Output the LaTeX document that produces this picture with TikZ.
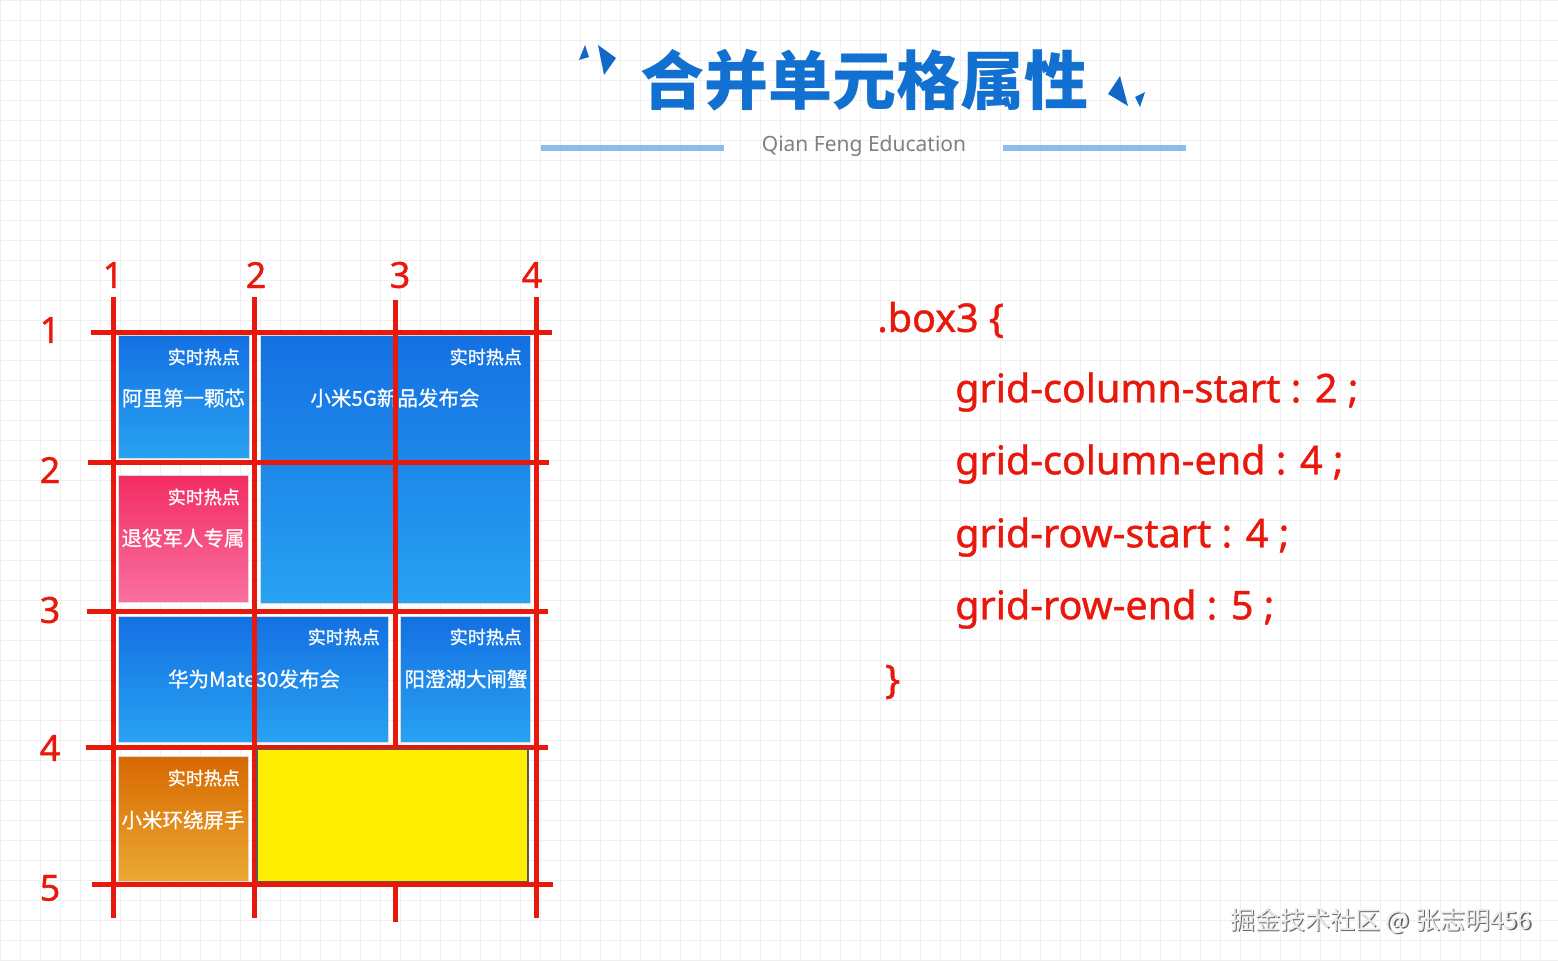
\documentclass[tikz,border=0pt]{standalone}
\usepackage{fontspec}
\setmainfont{Noto Sans}
\newfontfamily\cjk{Noto Sans CJK SC}
\newfontfamily\cjkb{Noto Sans CJK SC}[FakeBold=0.8]
\newfontfamily\cjkh{Noto Sans CJK SC}[FakeBold=1.2]
\newfontfamily\codefont{Noto Sans}[FakeBold=1]
\usetikzlibrary{positioning}
\definecolor{gridred}{HTML}{E8180C}
\definecolor{titleblue}{HTML}{1270D0}
\definecolor{decoblue}{HTML}{1268C8}
\definecolor{lineblue}{HTML}{8DBDEE}
\definecolor{bluetop}{HTML}{1470E2}
\definecolor{bluebot}{HTML}{28A2F2}
\definecolor{pinktop}{HTML}{F22C62}
\definecolor{pinkbot}{HTML}{FA70A2}
\definecolor{orangetop}{HTML}{D86800}
\definecolor{orangebot}{HTML}{EAA932}
\definecolor{yellowbox}{HTML}{FFEE00}
\definecolor{bggrid}{HTML}{EFEFEF}
\tikzset{
  cell/.style={inner sep=0pt, outer sep=0pt, draw=white!70!gray, line width=0.6pt},
  bluecell/.style={cell, shade, top color=bluetop, bottom color=bluebot},
  pinkcell/.style={cell, shade, top color=pinktop, bottom color=pinkbot},
  orangecell/.style={cell, shade, top color=orangetop, bottom color=orangebot},
  hot/.style={anchor=east, inner sep=0pt, text=white, font=\cjkh\fontsize{18}{20}\selectfont},
  celltext/.style={inner sep=0pt, text=white, font=\cjkb\fontsize{20.5}{22}\selectfont},
  redline/.style={draw=gridred, line width=5pt},
  numlabel/.style={inner sep=0pt, text=gridred, font=\codefont\fontsize{36}{40}\selectfont},
  codetext/.style={anchor=west, inner sep=0pt, text=gridred, font=\codefont\fontsize{39.5}{44}\selectfont},
}
\begin{document}
\begin{tikzpicture}[x=1pt, y=-1pt]
\useasboundingbox (0,0) rectangle (1558,961);
\fill[white] (0,0) rectangle (1558,961);
% faint background grid
\foreach \gx in {0,20,...,1558} { \draw[bggrid, line width=0.7pt] (\gx,0) -- (\gx,961); }
\foreach \gy in {0,20,...,961} { \draw[bggrid, line width=0.7pt] (0,\gy) -- (1558,\gy); }

% title
\node[inner sep=0pt, text=titleblue, font=\cjk\bfseries\fontsize{64}{68}\selectfont] (title) at (864,80) {合并单元格属性};
\fill[decoblue] (585,45) -- (589,57) -- (579,60) -- cycle;
\fill[decoblue] (598,45) -- (616,58) -- (604,75) -- cycle;
\fill[decoblue] (1120,76) -- (1128,106) -- (1108,94) -- cycle;
\fill[decoblue] (1145,92) -- (1140,107) -- (1135,97) -- cycle;
\node[inner sep=0pt, text=black!50, font=\fontsize{21}{24}\selectfont] (subtitle) at (864,146) {Qian Feng Education};
\fill[lineblue] (541,145) rectangle (724,151);
\fill[lineblue] (1003,145) rectangle (1186,151);

% cells
\node[bluecell, minimum width=131pt, minimum height=123pt] (b1) at (183.5,396.5) {};
\node[bluecell, minimum width=270pt, minimum height=268pt] (b2) at (395,469) {};
\node[pinkcell, minimum width=130pt, minimum height=127pt] (b3) at (183,538.5) {};
\node[bluecell, minimum width=270pt, minimum height=126pt] (b4) at (253,679) {};
\node[bluecell, minimum width=130pt, minimum height=126pt] (b5) at (465,679) {};
\node[orangecell, minimum width=130pt, minimum height=125pt] (b6) at (183,818.5) {};

% cell texts
\node[hot] (h1) at (240,357) {实时热点};
\node[celltext] (t1) at (183.5,398) {阿里第一颗芯};
\node[hot] (h2) at (522,357) {实时热点};
\node[celltext] (t2) at (395,398) {小米5G新品发布会};
\node[hot] (h3) at (240,497) {实时热点};
\node[celltext] (t3) at (183,538) {退役军人专属};
\node[hot] (h4) at (380,637) {实时热点};
\node[celltext] (t4) at (254,679) {华为Mate30发布会};
\node[hot] (h5) at (522,637) {实时热点};
\node[celltext] (t5) at (466,679) {阳澄湖大闸蟹};
\node[hot] (h6) at (240,778) {实时热点};
\node[celltext] (t6) at (183,820) {小米环绕屏手};

% red grid lines
\draw[redline] (113,297) -- (113,918);
\draw[redline] (254,297) -- (254,918);
\draw[redline] (395,300) -- (395,922);
\draw[redline] (536,297) -- (536,918);
\draw[redline] (91,332) -- (552,332);
\draw[redline] (88,462) -- (549,462);
\draw[redline] (87,611) -- (548,611);
\draw[redline] (86,747) -- (548,747);
\draw[redline] (92,884) -- (553,884);

% the yellow box lies over the lines
\node[cell, fill=yellowbox, draw=black!65, line width=1.5pt, minimum width=271pt, minimum height=132pt] (b7) at (392.5,815.5) {};

% line numbers
\node[numlabel] (c1) at (113,275) {1};
\node[numlabel] (c2) at (256,275) {2};
\node[numlabel] (c3) at (400,275) {3};
\node[numlabel] (c4) at (532,275) {4};
\node[numlabel] (r1) at (50,330) {1};
\node[numlabel] (r2) at (50,470) {2};
\node[numlabel] (r3) at (50,610) {3};
\node[numlabel] (r4) at (50,748) {4};
\node[numlabel] (r5) at (50,888) {5};

% code
\node[codetext] (k0) at (877,320) {.box3 \{};
\node[codetext] (k1) at (955,392) {grid-column-start : 2 ;};
\node[codetext] (k2) at (955,464) {grid-column-end : 4 ;};
\node[codetext] (k3) at (955,537) {grid-row-start : 4 ;};
\node[codetext] (k4) at (955,609) {grid-row-end : 5 ;};
\node[codetext] (k5) at (885,682) {\}};

% watermark
\node[anchor=west, inner sep=0pt, text=black!60, font=\cjk\fontsize{25}{27}\selectfont] (wms) at (1231.5,922.5) {掘金技术社区 @ 张志明456};
\node[anchor=west, inner sep=0pt, text=white!92!black, font=\cjk\fontsize{25}{27}\selectfont] (wm) at (1230,921) {掘金技术社区 @ 张志明456};
\end{tikzpicture}
\end{document}
